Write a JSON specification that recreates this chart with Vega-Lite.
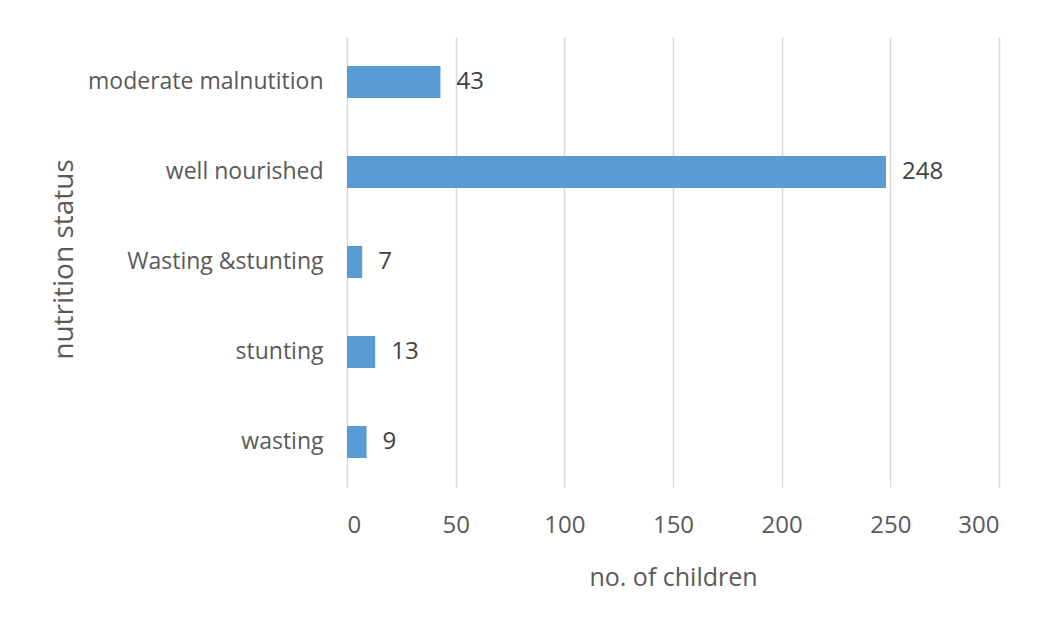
{
  "$schema": "https://vega.github.io/schema/vega-lite/v6.json",
  "autosize": {"type": "none"},
  "width": 652,
  "height": 450,
  "padding": {"left": 347, "top": 37, "right": 41, "bottom": 144},
  "background": "#ffffff",
  "config": {"view": {"stroke": null}, "font": "Open Sans"},
  "data": {"values": [
    {"status": "moderate malnutition", "children": 43},
    {"status": "well nourished", "children": 248},
    {"status": "Wasting &stunting", "children": 7},
    {"status": "stunting", "children": 13},
    {"status": "wasting", "children": 9}
  ]},
  "encoding": {
    "y": {
      "field": "status", "type": "nominal", "sort": null,
      "scale": {"paddingInner": 0.644, "paddingOuter": 0.322},
      "axis": {
        "title": "nutrition status", "domain": false, "ticks": false,
        "labelPadding": 24, "labelFontSize": 23, "labelColor": "#595959", "labelFont": "Open Sans", "labelLimit": 400,
        "titleFontSize": 28, "titleColor": "#595959", "titleFont": "Open Sans", "titleFontWeight": "normal",
        "titleAngle": -90, "titleX": -283, "titleY": 222, "titleBaseline": "middle", "titleAlign": "center"
      }
    },
    "x": {
      "field": "children", "type": "quantitative",
      "scale": {"domain": [0, 300], "nice": false},
      "axis": {
        "title": "no. of children", "values": [0, 50, 100, 150, 200, 250, 300],
        "domain": false, "ticks": false, "grid": true, "gridColor": "#d9d9d9", "gridWidth": 1.5,
        "labelPadding": 26, "labelFontSize": 24, "labelColor": "#595959", "labelFont": "Open Sans",
        "titleFontSize": 25, "titleColor": "#595959", "titleFont": "Open Sans", "titleFontWeight": "normal",
        "titleY": 90, "titleBaseline": "middle"
      }
    }
  },
  "layer": [
    {"mark": {"type": "bar", "color": "#5b9bd5"}},
    {"mark": {"type": "text", "align": "left", "baseline": "middle", "dx": 16, "fontSize": 24, "color": "#404040", "font": "Open Sans"},
     "encoding": {"text": {"field": "children", "type": "quantitative"}}}
  ]
}
